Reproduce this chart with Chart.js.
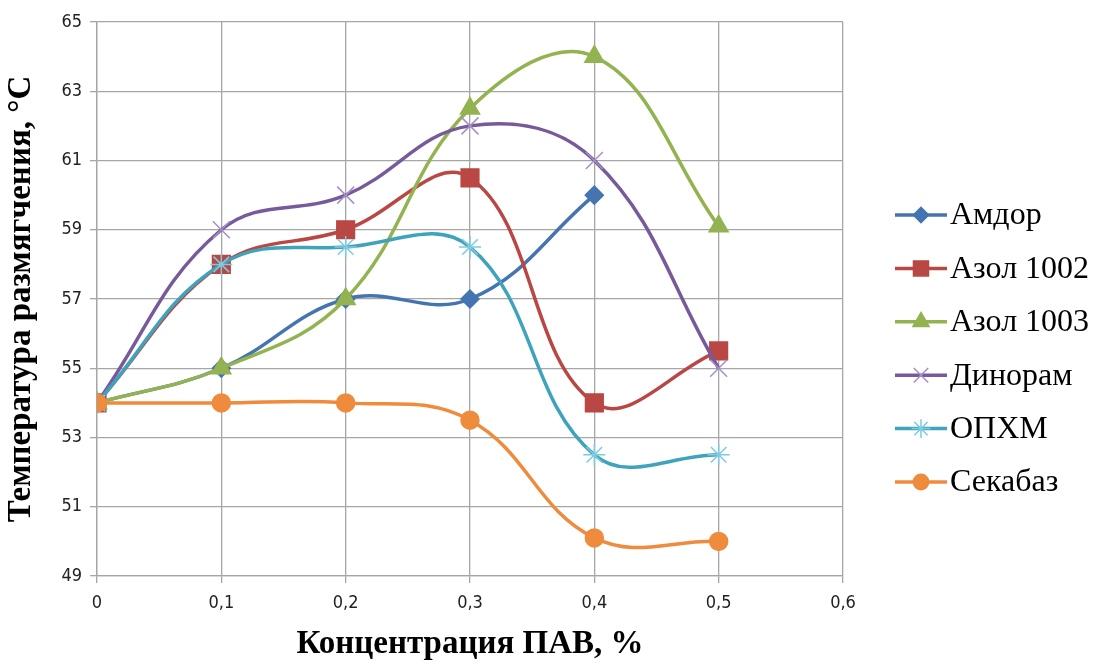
<!DOCTYPE html>
<html>
<head>
<meta charset="utf-8">
<script src="https://cdn.jsdelivr.net/npm/chart.js@4"></script>
<style>
  html, body { margin: 0; padding: 0; background: #fff; }
  #wrap { width: 1099px; height: 664px; }
</style>
</head>
<body>
<div id="wrap"><canvas id="chart"></canvas></div>
<script>
  // concentrations along x
  const concentrations = [0, 0.1, 0.2, 0.3, 0.4, 0.5];

  const amdor = [54, 55, 57, 57, 60, null];
  const azol1002 = [54, 58, 59, 60.5, 54, 55.5];
  const azol1003 = [54, 55, 57, 62.5, 64, 59.1];
  const dinoram = [54, 59, 60, 62, 61, 55];
  const opxm = [54, 58, 58.5, 58.5, 52.5, 52.5];
  const sekabaz = [54, 54, 54, 53.5, 50.1, 50];

  const seriesNames = ["Амдор", "Азол 1002", "Азол 1003", "Динорам", "ОПХМ", "Секабаз"];
  const seriesValues = [amdor, azol1002, azol1003, dinoram, opxm, sekabaz];

  const yTicks = [49, 51, 53, 55, 57, 59, 61, 63, 65];
  const xTicks = [0, 0.1, 0.2, 0.3, 0.4, 0.5, 0.6];

  const styles = [
    { color: "#4575b0", markColor: "#4575b0", point: "rectRot", radius: 9 },
    { color: "#b94744", markColor: "#b94744", point: "rect", radius: 12.5 },
    { color: "#93b351", markColor: "#93b351", point: "triangle", radius: 11 },
    { color: "#775a9a", markColor: "#a58fc8", point: "crossRot", radius: 12 },
    { color: "#40a3bd", markColor: "#7ccbe0", point: "star", radius: 11 },
    { color: "#ef8b3c", markColor: "#ef8b3c", point: "circle", radius: 9 },
  ];

  const tickFont = { family: "'DejaVu Sans Condensed', 'Liberation Sans Narrow', sans-serif", size: 18 };

  function toPoints(values) {
    return concentrations
      .map((x, i) => ({ x, y: values[i] }))
      .filter((p) => p.y !== null);
  }

  const datasets = seriesValues.map((values, i) => ({
    label: seriesNames[i],
    data: toPoints(values),
    borderColor: styles[i].color,
    backgroundColor: styles[i].markColor,
    pointBackgroundColor: styles[i].markColor,
    pointBorderColor: styles[i].markColor,
    pointBorderWidth: 1.5,
    pointStyle: styles[i].point,
    pointRadius: styles[i].radius,
    borderWidth: 3.5,
    tension: 0.4,
    order: seriesNames.length - i,
  }));

  // legend with a line through each marker, like the original
  const sideLegend = {
    id: "sideLegend",
    afterDraw(chart) {
      const ctx = chart.ctx;
      ctx.save();
      datasets.forEach((ds, i) => {
        const y = 215 + i * 53.4;
        ctx.strokeStyle = ds.borderColor;
        ctx.lineWidth = 3.5;
        ctx.beginPath();
        ctx.moveTo(895, y);
        ctx.lineTo(947, y);
        ctx.stroke();
        ctx.fillStyle = ds.pointBackgroundColor;
        ctx.strokeStyle = ds.pointBorderColor;
        ctx.lineWidth = 1.5;
        Chart.helpers.drawPoint(ctx, { pointStyle: ds.pointStyle, radius: ds.pointRadius * 0.85, borderWidth: 1.5 }, 921, y);
        ctx.fillStyle = "#000";
        ctx.font = "32px 'Liberation Serif'";
        ctx.textBaseline = "middle";
        ctx.fillText(ds.label, 950, y + 1);
      });
      ctx.restore();
    },
  };

  new Chart(document.getElementById("chart"), {
    type: "line",
    data: { datasets },
    plugins: [sideLegend],
    options: {
      responsive: true,
      maintainAspectRatio: false,
      animation: false,
      layout: { padding: { top: 22, right: 256, left: 0, bottom: 0 } },
      plugins: { legend: { display: false }, tooltip: { enabled: false } },
      scales: {
        x: {
          type: "linear",
          min: 0,
          max: 0.6,
          afterBuildTicks: (scale) => { scale.ticks = xTicks.map((v) => ({ value: v })); },
          afterFit: (scale) => { scale.height = 88; },
          ticks: {
            color: "#222",
            font: tickFont,
            padding: 10,
            callback: (v) => (v === 0 ? "0" : v.toFixed(1).replace(".", ",")),
          },
          grid: { color: "#a6a6a6", lineWidth: 1.3, tickLength: 7 },
          border: { color: "#a6a6a6", width: 1.3 },
          title: {
            display: true,
            text: "Концентрация ПАВ, %",
            color: "#000",
            font: { family: "'Liberation Serif'", size: 33, weight: "bold" },
            padding: { top: 8, bottom: 0 },
          },
        },
        y: {
          min: 49,
          max: 65,
          afterBuildTicks: (scale) => { scale.ticks = yTicks.map((v) => ({ value: v })); },
          afterFit: (scale) => { scale.width = 97; },
          ticks: {
            color: "#222",
            font: tickFont,
            padding: 8,
          },
          grid: { color: "#a6a6a6", lineWidth: 1.3, tickLength: 7 },
          border: { color: "#a6a6a6", width: 1.3 },
          title: {
            display: true,
            text: "Температура размягчения, °С",
            color: "#000",
            font: { family: "'Liberation Serif'", size: 33, weight: "bold" },
            padding: { top: 2, bottom: 2 },
          },
        },
      },
    },
  });
</script>
</body>
</html>
